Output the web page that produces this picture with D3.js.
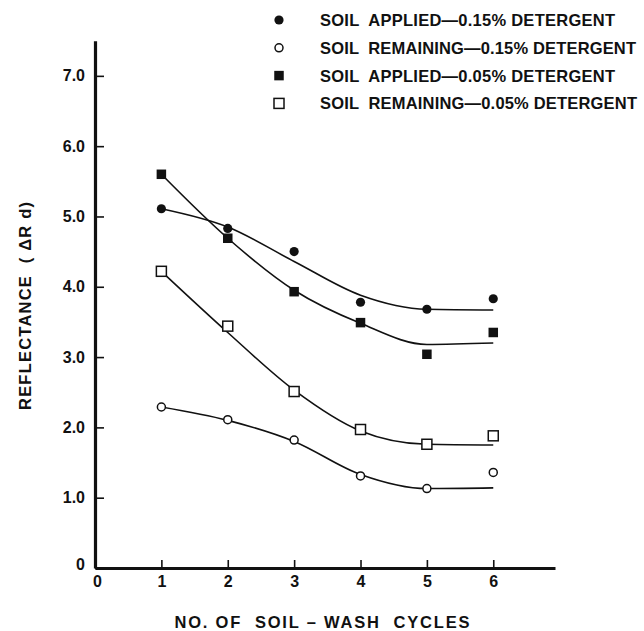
<!DOCTYPE html>
<html lang="en">
<head>
<meta charset="UTF-8">
<title>Reflectance vs soil-wash cycles</title>
<script src="https://d3js.org/d3.v7.min.js"></script>
<style>
  body { margin: 0; background: #fff; }
  svg text { font-family: "Liberation Sans", Arial, sans-serif; font-weight: bold; fill: #111; white-space: pre; }
</style>
</head>
<body>
<svg width="644" height="631"></svg>
<script>
    // values
    const cycles = [1, 2, 3, 4, 5, 6];
    const applied015 = [5.11, 4.83, 4.50, 3.78, 3.68, 3.83];
    const remaining015 = [2.29, 2.11, 1.82, 1.31, 1.13, 1.36];
    const applied005 = [5.60, 4.69, 3.93, 3.49, 3.04, 3.35];
    const remaining005 = [4.22, 3.44, 2.51, 1.97, 1.76, 1.88];

    // hand-drawn smooth curves, read at each cycle
    const applied015Fit = [5.11, 4.85, 4.36, 3.88, 3.68, 3.67];
    const remaining015Fit = [2.29, 2.10, 1.80, 1.33, 1.13, 1.14];
    const applied005Fit = [5.60, 4.69, 3.95, 3.48, 3.18, 3.20];
    const remaining005Fit = [4.22, 3.35, 2.53, 1.95, 1.76, 1.75];

    const legendLabels = [
        "SOIL  APPLIED\u20140.15% DETERGENT",
        "SOIL  REMAINING\u20140.15% DETERGENT",
        "SOIL  APPLIED\u20140.05% DETERGENT",
        "SOIL  REMAINING\u20140.05% DETERGENT"
    ];
    const xTicks = [0, 1, 2, 3, 4, 5, 6];
    const yTicks = [0, 1, 2, 3, 4, 5, 6, 7];

    const series = [
        { values: applied015, fit: applied015Fit, shape: "circle", filled: true },
        { values: remaining015, fit: remaining015Fit, shape: "circle", filled: false },
        { values: applied005, fit: applied005Fit, shape: "square", filled: true },
        { values: remaining005, fit: remaining005Fit, shape: "square", filled: false }
    ];
    // printed width of each legend line
    const legendWidths = [295, 316, 295, 317];

    const svg = d3.select("svg");

    const x = d3.scaleLinear().domain([0, 6.93]).range([95, 555]);
    const y = d3.scaleLinear().domain([0, 7.5]).range([568, 40.7]);

    // axes
    const xAxis = svg.append("g")
        .attr("transform", `translate(0,${y(0)})`)
        .call(d3.axisBottom(x).tickValues(xTicks).tickFormat(d3.format("d"))
            .tickSize(-8).tickSizeOuter(0).tickPadding(8));
    const yAxis = svg.append("g")
        .attr("transform", `translate(${x(0)},0)`)
        .call(d3.axisLeft(y).tickValues(yTicks)
            .tickFormat(d => d === 0 ? "0" : d.toFixed(1))
            .tickSize(-9).tickSizeOuter(0).tickPadding(10));

    [xAxis, yAxis].forEach(g => {
        g.select(".domain").attr("stroke", "#111").attr("stroke-width", 3.2);
        g.selectAll(".tick line").attr("stroke", "#111").attr("stroke-width", 1.6);
        g.selectAll(".tick text").attr("font-size", 16);
    });
    // the two zeros sit a bit off the corner
    xAxis.selectAll(".tick text").filter(d => d === 0).attr("x", 2);
    yAxis.selectAll(".tick text").filter(d => d === 0).attr("dy", "0.1em");

    // axis titles
    svg.append("text")
        .attr("x", 322).attr("y", 628)
        .attr("text-anchor", "middle")
        .attr("font-size", 16.5)
        .attr("textLength", 295)
        .text("NO. OF  SOIL \u2013 WASH  CYCLES");

    svg.append("text")
        .attr("transform", "translate(31,306) rotate(-90)")
        .attr("text-anchor", "middle")
        .attr("font-size", 16.5)
        .attr("textLength", 208)
        .text("REFLECTANCE  ( \u0394R d)");

    // fitted curves
    const line = d3.line()
        .x((d, i) => x(cycles[i]))
        .y(d => y(d))
        .curve(d3.curveMonotoneX);

    svg.selectAll(".fit")
        .data(series)
        .enter()
        .append("path")
        .attr("class", "fit")
        .attr("d", d => line(d.fit))
        .attr("fill", "none")
        .attr("stroke", "#111")
        .attr("stroke-width", 1.6);

    function drawMarker(g, shape, filled, cx, cy) {
        if (shape === "circle") {
            g.append("circle")
                .attr("cx", cx).attr("cy", cy)
                .attr("r", filled ? 4.6 : 4)
                .attr("fill", filled ? "#111" : "#fff")
                .attr("stroke", "#111")
                .attr("stroke-width", filled ? 0 : 1.5);
        } else {
            const s = filled ? 9.5 : 10;
            g.append("rect")
                .attr("x", cx - s / 2).attr("y", cy - s / 2)
                .attr("width", s).attr("height", s)
                .attr("fill", filled ? "#111" : "#fff")
                .attr("stroke", "#111")
                .attr("stroke-width", filled ? 0 : 1.5);
        }
    }

    // points
    series.forEach(s => {
        const g = svg.append("g");
        s.values.forEach((v, i) => drawMarker(g, s.shape, s.filled, x(cycles[i]), y(v)));
    });

    // legend
    const legend = svg.append("g");
    series.forEach((s, i) => {
        const ly = 20 + i * 27.8;
        drawMarker(legend, s.shape, s.filled, 279, ly);
        legend.append("text")
            .attr("x", 320).attr("y", ly)
            .attr("dy", "0.36em")
            .attr("font-size", 16.5)
            .attr("textLength", legendWidths[i])
            .text(legendLabels[i]);
    });
</script>
</body>
</html>
